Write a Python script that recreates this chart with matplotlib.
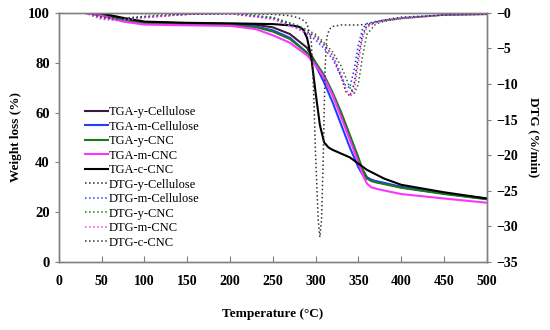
import matplotlib.pyplot as plt

plt.rcParams['font.family'] = 'Liberation Serif'

# TGA curves (weight %)
t_tga = [30, 50, 75, 100, 150, 200, 230, 250, 270, 290, 300, 310, 320, 330, 340, 350, 355, 360, 365, 370, 380, 400, 450, 500]
tga_y_cell = [100, 99.5, 97.5, 96.3, 95.8, 95.5, 95.2, 94.2, 91.5, 86, 80, 74, 67, 59, 50, 41, 37, 34, 33, 32.3, 31.5, 30, 27.5, 25.5]
tga_m_cell = [100, 99, 97, 96, 95.5, 95.2, 94.5, 93, 90, 84, 79, 72, 64, 55, 46, 38, 35, 33.5, 33, 32.5, 31.8, 30.2, 27.5, 25.3]
tga_y_cnc = [100, 99, 97, 96, 95.5, 95, 94.3, 92.5, 89.5, 84, 80, 75, 68, 60, 51, 42, 37, 33.5, 32.5, 32, 31.3, 29.8, 27.3, 25.2]
tga_m_cnc = [100, 98.8, 96.5, 95.3, 95, 94.8, 93.5, 91, 88, 83, 79, 74, 67, 58, 49, 40, 35, 31.5, 30, 29.5, 28.7, 27.3, 25.5, 23.8]

t_tga_c = [30, 50, 75, 100, 150, 200, 250, 270, 280, 285, 290, 295, 300, 305, 310, 315, 320, 340, 360, 380, 400, 450, 500]
tga_c_cnc = [100, 99.8, 98, 96.5, 96, 95.8, 95.5, 95, 94.5, 93.5, 90, 82, 68, 55, 48, 46, 45, 42, 37, 33.5, 31, 28, 25.5]

# DTG curves (%/min)
t_dtg = [30, 50, 70, 100, 150, 200, 250, 280, 300, 310, 320, 330, 335, 340, 345, 350, 355, 360, 370, 380, 400, 450, 500]
dtg_y_cell = [0, -0.6, -0.8, -0.5, -0.2, -0.1, -0.7, -2, -3.3, -4.5, -6, -9, -11, -11.7, -10, -6, -3, -1.8, -1.3, -1.1, -0.8, -0.3, -0.2]
dtg_m_cell = [0, -0.8, -1, -0.6, -0.2, -0.1, -0.8, -2.2, -3.8, -5, -6.5, -9, -10.2, -10.5, -8, -4.5, -2.2, -1.5, -1.2, -1, -0.7, -0.3, -0.2]
dtg_y_cnc = [0, -0.7, -0.9, -0.6, -0.2, -0.1, -0.6, -1.8, -3, -4.2, -5.5, -7.5, -9, -10.5, -11.4, -10, -6, -3, -1.6, -1.2, -0.8, -0.3, -0.2]
dtg_m_cnc = [0, -0.9, -1.1, -0.7, -0.2, -0.1, -0.9, -2.3, -3.5, -4.6, -6, -8.5, -10.5, -11.8, -11.2, -7, -3.5, -2, -1.4, -1.1, -0.8, -0.3, -0.2]

t_dtg_c = [30, 100, 150, 200, 250, 270, 280, 285, 290, 295, 298, 300, 303, 305, 307, 309, 311, 313, 316, 320, 330, 350, 360, 380, 400, 450, 500]
dtg_c_cnc = [0, -0.1, -0.2, -0.1, -0.2, -0.4, -0.7, -1.0, -1.5, -4, -12, -20, -29, -31.5, -29, -20, -8, -3.5, -2.3, -1.9, -1.7, -1.7, -1.6, -1.0, -0.6, -0.3, -0.2]

c_purple = '#3d1a3d'
c_blue = '#1f3fff'
c_green = '#1a7a1a'
c_pink = '#ff33ff'
c_black = '#000000'

fig = plt.figure(figsize=(5.5, 3.3), dpi=100)
ax = fig.add_axes([0.107, 0.206, 0.778, 0.755])
ax2 = ax.twinx()

l1, = ax.plot(t_tga, tga_y_cell, color=c_purple, lw=1.5, label='TGA-y-Cellulose')
l2, = ax.plot(t_tga, tga_m_cell, color=c_blue, lw=1.5, label='TGA-m-Cellulose')
l3, = ax.plot(t_tga, tga_y_cnc, color=c_green, lw=1.5, label='TGA-y-CNC')
l4, = ax.plot(t_tga, tga_m_cnc, color=c_pink, lw=1.5, label='TGA-m-CNC')
l5, = ax.plot(t_tga_c, tga_c_cnc, color=c_black, lw=1.5, label='TGA-c-CNC')

d1, = ax2.plot(t_dtg, dtg_y_cell, color=c_purple, lw=1.1, ls=':', label='DTG-y-Cellulose')
d2, = ax2.plot(t_dtg, dtg_m_cell, color=c_blue, lw=1.1, ls=':', label='DTG-m-Cellulose')
d3, = ax2.plot(t_dtg, dtg_y_cnc, color=c_green, lw=1.1, ls=':', label='DTG-y-CNC')
d4, = ax2.plot(t_dtg, dtg_m_cnc, color=c_pink, lw=1.1, ls=':', label='DTG-m-CNC')
d5, = ax2.plot(t_dtg_c, dtg_c_cnc, color='#333333', lw=1.1, ls=':', label='DTG-c-CNC')

ax.set_xlim(0, 500)
ax.set_ylim(0, 100)
ax2.set_ylim(-35, 0)
ax.set_xticks(range(0, 501, 50))
ax.set_yticks(range(0, 101, 20))
ax2.set_yticks(range(-35, 1, 5))
ax2.set_yticklabels(['\u221235', '\u221230', '\u221225', '\u221220', '\u221215', '\u221210', '\u22125', '\u22120'])

for a in (ax, ax2):
    for s in a.spines.values():
        s.set_color('#808080')
        s.set_linewidth(1.0)
ax.tick_params(axis='x', direction='in', length=4, color='#808080', labelsize=10, pad=9)
ax.tick_params(axis='y', direction='out', length=3, color='#808080', labelsize=10.5)
ax2.tick_params(axis='y', direction='out', length=3, color='#808080', labelsize=10)
for lab in ax.get_xticklabels() + ax.get_yticklabels() + ax2.get_yticklabels():
    lab.set_fontweight('bold')

ax.set_xlabel('Temperature (°C)', fontweight='bold', fontsize=9.5, labelpad=15)
ax.set_ylabel('Weight loss (%)', fontweight='bold', fontsize=9.5, labelpad=4)
ax2.set_ylabel('DTG (%/min)', fontweight='bold', fontsize=9.5, rotation=270, labelpad=16)

handles = [l1, l2, l3, l4, l5, d1, d2, d3, d4, d5]
fig.legend(handles=handles, labels=[h.get_label() for h in handles],
           loc='upper left', bbox_to_anchor=(0.155, 0.678), frameon=False,
           fontsize=9, handlelength=1.8, handletextpad=0.1, labelspacing=0.2,
           borderpad=0, borderaxespad=0)

fig.savefig('out.png', dpi=100)
